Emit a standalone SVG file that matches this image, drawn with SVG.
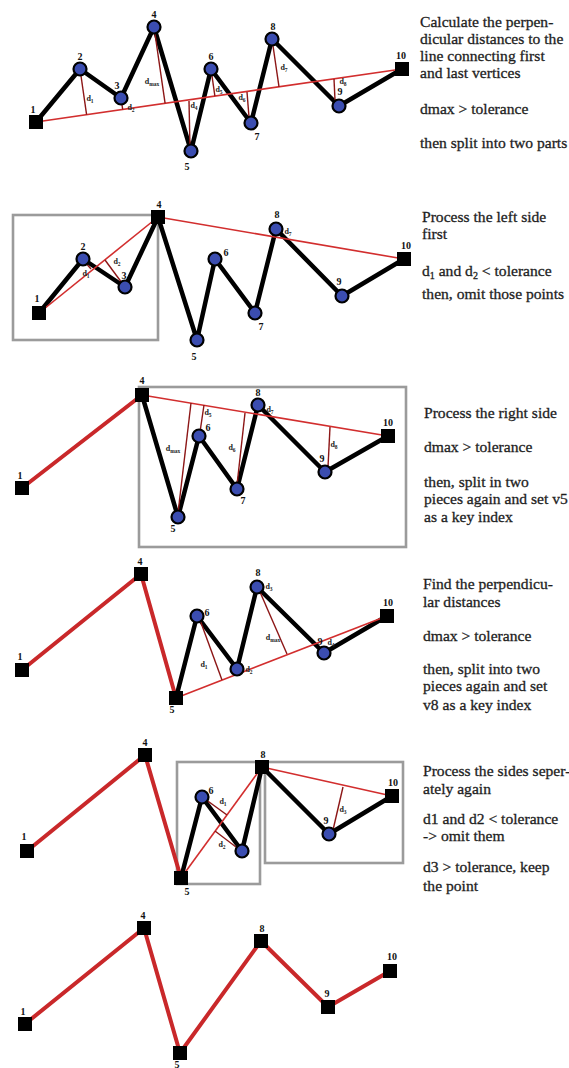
<svg xmlns="http://www.w3.org/2000/svg" width="569" height="1068" viewBox="0 0 569 1068">
<style>
  .poly { fill: none; stroke: #000; stroke-width: 4.5; stroke-linejoin: round; stroke-linecap: round; }
  .keep { fill: none; stroke: #c9282a; stroke-width: 4; stroke-linejoin: round; stroke-linecap: round; }
  .chord { fill: none; stroke: #d22e2e; stroke-width: 1.6; }
  .perp { fill: none; stroke: #8c1616; stroke-width: 1.4; }
  .box { fill: none; stroke: #9b9b9b; stroke-width: 2.6; }
  .sq { fill: #000; }
  .pt { fill: #3b4db0; stroke: #000; stroke-width: 2.2; }
  .lbl { font-family: "Liberation Serif", "Times New Roman", serif; font-weight: bold; font-size: 10px; fill: #111; text-anchor: middle; }
  .d { font-family: "Liberation Serif", "Times New Roman", serif; font-weight: bold; font-size: 8px; fill: #222; text-anchor: middle; }
  .sub { font-size: 5.5px; }
  .note { font-family: "Liberation Serif", "Times New Roman", serif; font-size: 15.6px; fill: #1e1e1e; stroke: #1e1e1e; stroke-width: 0.3; }
  .nsub { font-size: 10px; }
</style>

<!-- ===== Step 1: whole polyline, chord 1-10 ===== -->
<g id="step1">
  <g id="step1-connectors">
    <polyline class="poly" points="36,122 80,69 121,98 154,27 191,151 211,69 251,123 272,39 339,106 402,69"/>
    <line class="chord" x1="36" y1="122" x2="402" y2="69"/>
    <line class="perp" x1="80" y1="69" x2="86.6" y2="114.7"/>
    <line class="perp" x1="121" y1="98" x2="122.7" y2="109.5"/>
    <line class="perp" x1="154" y1="27" x2="165.1" y2="103.3"/>
    <line class="perp" x1="190" y1="148" x2="189" y2="101"/>
    <line class="perp" x1="211" y1="69" x2="214.9" y2="96.1"/>
    <line class="perp" x1="249" y1="117" x2="247" y2="92"/>
    <line class="perp" x1="272" y1="39" x2="279" y2="86.8"/>
    <line class="perp" x1="335" y1="100" x2="334" y2="79"/>
    <text class="d" x="90" y="101">d<tspan class="sub" dy="2">1</tspan></text>
    <text class="d" x="131" y="110">d<tspan class="sub" dy="2">2</tspan></text>
    <text class="d" x="152" y="84">d<tspan class="sub" dy="2">max</tspan></text>
    <text class="d" x="194" y="108">d<tspan class="sub" dy="2">4</tspan></text>
    <text class="d" x="219" y="92">d<tspan class="sub" dy="2">5</tspan></text>
    <text class="d" x="242" y="100">d<tspan class="sub" dy="2">6</tspan></text>
    <text class="d" x="284" y="70">d<tspan class="sub" dy="2">7</tspan></text>
    <text class="d" x="343" y="84">d<tspan class="sub" dy="2">8</tspan></text>
  </g>
  <g id="s1-v1"><rect class="sq" x="29" y="115" width="14" height="14"/><text class="lbl" x="33" y="113">1</text></g>
  <g id="s1-v2"><circle class="pt" cx="80" cy="69" r="6.5"/><text class="lbl" x="80" y="60">2</text></g>
  <g id="s1-v3"><circle class="pt" cx="121" cy="98" r="6.5"/><text class="lbl" x="117" y="89">3</text></g>
  <g id="s1-v4"><circle class="pt" cx="154" cy="27" r="6.5"/><text class="lbl" x="154" y="18">4</text></g>
  <g id="s1-v5"><circle class="pt" cx="191" cy="151" r="6.5"/><text class="lbl" x="187" y="170">5</text></g>
  <g id="s1-v6"><circle class="pt" cx="211" cy="69" r="6.5"/><text class="lbl" x="211" y="60">6</text></g>
  <g id="s1-v7"><circle class="pt" cx="251" cy="123" r="6.5"/><text class="lbl" x="257" y="140">7</text></g>
  <g id="s1-v8"><circle class="pt" cx="272" cy="39" r="6.5"/><text class="lbl" x="273" y="30">8</text></g>
  <g id="s1-v9"><circle class="pt" cx="339" cy="106" r="6.5"/><text class="lbl" x="340" y="95">9</text></g>
  <g id="s1-v10"><rect class="sq" x="395" y="62" width="14" height="14"/><text class="lbl" x="401" y="59">10</text></g>
  <text class="note" x="420" y="27">Calculate the perpen-</text>
  <text class="note" x="420" y="44">dicular distances to the</text>
  <text class="note" x="420" y="61">line connecting first</text>
  <text class="note" x="420" y="78">and last vertices</text>
  <text class="note" x="420" y="114">dmax &gt; tolerance</text>
  <text class="note" x="420" y="148">then split into two parts</text>
</g>

<!-- ===== Step 2: left half 1-4 ===== -->
<g id="step2">
  <g id="step2-connectors">
    <rect class="box" x="13" y="215" width="145" height="125"/>
    <polyline class="poly" points="39,313 83,259 125,287 158,217 197,340 215,259 255,313 276,229 342,296 404,259"/>
    <line class="chord" x1="39" y1="313" x2="158" y2="217"/>
    <line class="chord" x1="158" y1="217" x2="404" y2="259"/>
    <line class="perp" x1="122" y1="283" x2="105" y2="260"/>
    <line class="perp" x1="85" y1="262" x2="91" y2="269"/>
    <text class="d" x="86" y="276">d<tspan class="sub" dy="2">1</tspan></text>
    <text class="d" x="117" y="264">d<tspan class="sub" dy="2">2</tspan></text>
    <text class="d" x="288" y="234">d<tspan class="sub" dy="2">7</tspan></text>
  </g>
  <g id="s2-v1"><rect class="sq" x="32" y="306" width="14" height="14"/><text class="lbl" x="37" y="302">1</text></g>
  <g id="s2-v2"><circle class="pt" cx="83" cy="259" r="6.5"/><text class="lbl" x="83" y="250">2</text></g>
  <g id="s2-v3"><circle class="pt" cx="125" cy="287" r="6.5"/><text class="lbl" x="124" y="279">3</text></g>
  <g id="s2-v4"><rect class="sq" x="151" y="210" width="14" height="14"/><text class="lbl" x="159" y="208">4</text></g>
  <g id="s2-v5"><circle class="pt" cx="197" cy="340" r="6.5"/><text class="lbl" x="194" y="360">5</text></g>
  <g id="s2-v6"><circle class="pt" cx="215" cy="259" r="6.5"/><text class="lbl" x="226" y="256">6</text></g>
  <g id="s2-v7"><circle class="pt" cx="255" cy="313" r="6.5"/><text class="lbl" x="261" y="330">7</text></g>
  <g id="s2-v8"><circle class="pt" cx="276" cy="229" r="6.5"/><text class="lbl" x="277" y="218">8</text></g>
  <g id="s2-v9"><circle class="pt" cx="342" cy="296" r="6.5"/><text class="lbl" x="339" y="285">9</text></g>
  <g id="s2-v10"><rect class="sq" x="397" y="252" width="14" height="14"/><text class="lbl" x="406" y="249">10</text></g>
  <text class="note" x="422" y="222">Process the left side</text>
  <text class="note" x="422" y="239">first</text>
  <text class="note" x="422" y="276">d<tspan class="nsub" dy="3">1</tspan><tspan dy="-3"> and d</tspan><tspan class="nsub" dy="3">2</tspan><tspan dy="-3"> &lt; tolerance</tspan></text>
  <text class="note" x="422" y="299">then, omit those points</text>
</g>

<!-- ===== Step 3: right half 4-10 ===== -->
<g id="step3">
  <g id="step3-connectors">
    <rect class="box" x="139" y="387" width="267" height="160"/>
    <line class="keep" x1="22" y1="488" x2="142" y2="395"/>
    <polyline class="poly" points="142,395 178,517 199,436 237,489 258,405 325,472 388,436"/>
    <line class="chord" x1="142" y1="395" x2="388" y2="436"/>
    <line class="perp" x1="178" y1="513" x2="191" y2="403"/>
    <line class="perp" x1="200" y1="432" x2="204" y2="405"/>
    <line class="perp" x1="237" y1="485" x2="245" y2="413"/>
    <line class="perp" x1="328" y1="467" x2="330" y2="427"/>
    <text class="d" x="173" y="451">d<tspan class="sub" dy="2">max</tspan></text>
    <text class="d" x="208" y="415">d<tspan class="sub" dy="2">5</tspan></text>
    <text class="d" x="232" y="450">d<tspan class="sub" dy="2">6</tspan></text>
    <text class="d" x="270" y="412">d<tspan class="sub" dy="2">7</tspan></text>
    <text class="d" x="334" y="447">d<tspan class="sub" dy="2">8</tspan></text>
  </g>
  <g id="s3-v1"><rect class="sq" x="15" y="481" width="14" height="14"/><text class="lbl" x="20" y="479">1</text></g>
  <g id="s3-v4"><rect class="sq" x="135" y="388" width="14" height="14"/><text class="lbl" x="142" y="384">4</text></g>
  <g id="s3-v5"><circle class="pt" cx="178" cy="517" r="6.5"/><text class="lbl" x="173" y="532">5</text></g>
  <g id="s3-v6"><circle class="pt" cx="199" cy="436" r="6.5"/><text class="lbl" x="208" y="431">6</text></g>
  <g id="s3-v7"><circle class="pt" cx="237" cy="489" r="6.5"/><text class="lbl" x="243" y="504">7</text></g>
  <g id="s3-v8"><circle class="pt" cx="258" cy="405" r="6.5"/><text class="lbl" x="258" y="396">8</text></g>
  <g id="s3-v9"><circle class="pt" cx="325" cy="472" r="6.5"/><text class="lbl" x="322" y="462">9</text></g>
  <g id="s3-v10"><rect class="sq" x="381" y="429" width="14" height="14"/><text class="lbl" x="388" y="426">10</text></g>
  <text class="note" x="424" y="418">Process the right side</text>
  <text class="note" x="424" y="452">dmax &gt; tolerance</text>
  <text class="note" x="424" y="487">then, split in two</text>
  <text class="note" x="424" y="504">pieces again and set v5</text>
  <text class="note" x="424" y="522">as a key index</text>
</g>

<!-- ===== Step 4: sub-range 5-10 ===== -->
<g id="step4">
  <g id="step4-connectors">
    <polyline class="keep" points="22,670 141,574 176,698"/>
    <polyline class="poly" points="176,698 197,616 237,669 257,587 324,653 387,616"/>
    <line class="chord" x1="176" y1="698" x2="387" y2="616"/>
    <line class="perp" x1="200" y1="620" x2="222" y2="680"/>
    <line class="perp" x1="260" y1="592" x2="287" y2="654"/>
    <text class="d" x="204" y="667">d<tspan class="sub" dy="2">1</tspan></text>
    <text class="d" x="249" y="672">d<tspan class="sub" dy="2">2</tspan></text>
    <text class="d" x="273" y="640">d<tspan class="sub" dy="2">max</tspan></text>
    <text class="d" x="269" y="589">d<tspan class="sub" dy="2">3</tspan></text>
    <text class="d" x="331" y="645">d<tspan class="sub" dy="2">4</tspan></text>
  </g>
  <g id="s4-v1"><rect class="sq" x="15" y="663" width="14" height="14"/><text class="lbl" x="20" y="660">1</text></g>
  <g id="s4-v4"><rect class="sq" x="134" y="567" width="14" height="14"/><text class="lbl" x="140" y="565">4</text></g>
  <g id="s4-v5"><rect class="sq" x="169" y="691" width="14" height="14"/><text class="lbl" x="172" y="713">5</text></g>
  <g id="s4-v6"><circle class="pt" cx="197" cy="616" r="6.5"/><text class="lbl" x="207" y="616">6</text></g>
  <g id="s4-v7"><circle class="pt" cx="237" cy="669" r="6.5"/></g>
  <g id="s4-v8"><circle class="pt" cx="257" cy="587" r="6.5"/><text class="lbl" x="258" y="576">8</text></g>
  <g id="s4-v9"><circle class="pt" cx="324" cy="653" r="6.5"/><text class="lbl" x="320" y="645">9</text></g>
  <g id="s4-v10"><rect class="sq" x="380" y="609" width="14" height="14"/><text class="lbl" x="388" y="606">10</text></g>
  <text class="note" x="423" y="589">Find the perpendicu-</text>
  <text class="note" x="423" y="607">lar distances</text>
  <text class="note" x="423" y="641">dmax &gt; tolerance</text>
  <text class="note" x="423" y="674">then, split into two</text>
  <text class="note" x="423" y="691">pieces again and set</text>
  <text class="note" x="423" y="710">v8 as a key index</text>
</g>

<!-- ===== Step 5: sub-ranges 5-8 and 8-10 ===== -->
<g id="step5">
  <g id="step5-connectors">
    <rect class="box" x="177" y="762" width="83" height="122"/>
    <rect class="box" x="265" y="762" width="138" height="101"/>
    <polyline class="keep" points="27,851 145,755 181,878"/>
    <polyline class="poly" points="181,878 202,797 242,851 262,767 329,834 392,796"/>
    <line class="chord" x1="181" y1="878" x2="262" y2="767"/>
    <line class="chord" x1="262" y1="767" x2="392" y2="796"/>
    <line class="perp" x1="205" y1="799" x2="227" y2="815"/>
    <line class="perp" x1="215" y1="831" x2="236" y2="847"/>
    <line class="perp" x1="333" y1="830" x2="343" y2="787"/>
    <text class="d" x="223" y="804">d<tspan class="sub" dy="2">1</tspan></text>
    <text class="d" x="222" y="847">d<tspan class="sub" dy="2">2</tspan></text>
    <text class="d" x="343" y="812">d<tspan class="sub" dy="2">3</tspan></text>
  </g>
  <g id="s5-v1"><rect class="sq" x="20" y="844" width="14" height="14"/><text class="lbl" x="24" y="840">1</text></g>
  <g id="s5-v4"><rect class="sq" x="138" y="748" width="14" height="14"/><text class="lbl" x="145" y="746">4</text></g>
  <g id="s5-v5"><rect class="sq" x="174" y="871" width="14" height="14"/><text class="lbl" x="187" y="895">5</text></g>
  <g id="s5-v6"><circle class="pt" cx="202" cy="797" r="6.5"/><text class="lbl" x="211" y="794">6</text></g>
  <g id="s5-v7"><circle class="pt" cx="242" cy="851" r="6.5"/></g>
  <g id="s5-v8"><rect class="sq" x="255" y="760" width="14" height="14"/><text class="lbl" x="263" y="758">8</text></g>
  <g id="s5-v9"><circle class="pt" cx="329" cy="834" r="6.5"/><text class="lbl" x="326" y="824">9</text></g>
  <g id="s5-v10"><rect class="sq" x="385" y="789" width="14" height="14"/><text class="lbl" x="393" y="786">10</text></g>
  <text class="note" x="423" y="776">Process the sides seper-</text>
  <text class="note" x="423" y="794">ately again</text>
  <text class="note" x="423" y="824">d1 and d2 &lt; tolerance</text>
  <text class="note" x="423" y="841">-&gt; omit them</text>
  <text class="note" x="423" y="872">d3 &gt; tolerance, keep</text>
  <text class="note" x="423" y="891">the point</text>
</g>

<!-- ===== Step 6: simplified result ===== -->
<g id="step6">
  <g id="step6-connectors">
    <polyline class="keep" points="25,1024 144,928 180,1053 261,941 328,1007 390,971"/>
  </g>
  <g id="s6-v1"><rect class="sq" x="18" y="1017" width="14" height="14"/><text class="lbl" x="23" y="1015">1</text></g>
  <g id="s6-v4"><rect class="sq" x="137" y="921" width="14" height="14"/><text class="lbl" x="143" y="919">4</text></g>
  <g id="s6-v5"><rect class="sq" x="173" y="1046" width="14" height="14"/><text class="lbl" x="177" y="1068">5</text></g>
  <g id="s6-v8"><rect class="sq" x="254" y="934" width="14" height="14"/><text class="lbl" x="262" y="932">8</text></g>
  <g id="s6-v9"><rect class="sq" x="321" y="1000" width="14" height="14"/><text class="lbl" x="327" y="997">9</text></g>
  <g id="s6-v10"><rect class="sq" x="383" y="964" width="14" height="14"/><text class="lbl" x="392" y="960">10</text></g>
</g>
</svg>
